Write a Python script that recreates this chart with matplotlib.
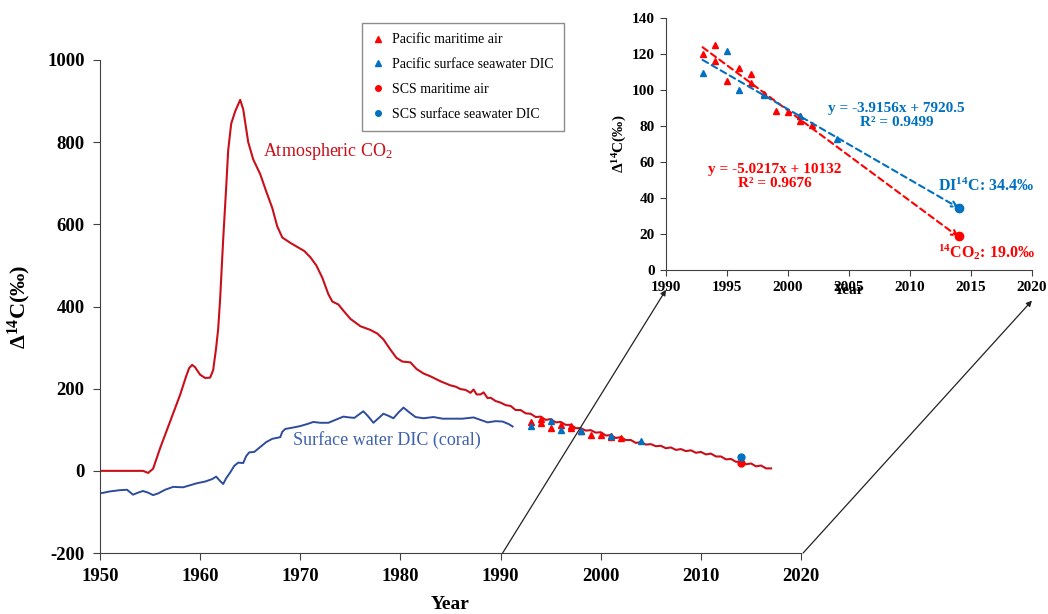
import matplotlib
matplotlib.use('Agg')
import matplotlib.pyplot as plt
from matplotlib.patches import ConnectionPatch

plt.rcParams['font.family'] = 'Liberation Serif'
plt.rcParams['mathtext.fontset'] = 'custom'
plt.rcParams['mathtext.rm'] = 'Liberation Serif'
plt.rcParams['mathtext.it'] = 'Liberation Serif:italic'
plt.rcParams['mathtext.bf'] = 'Liberation Serif:bold'
plt.rcParams['axes.unicode_minus'] = False

# Atmospheric 14CO2 curve (year, per mil)
atm_years = [1950, 1954.3, 1954.8, 1955.3, 1956, 1957, 1958, 1958.6, 1958.9, 1959.2, 1959.5, 1960, 1960.5,
             1961, 1961.3, 1961.6, 1961.8, 1962, 1962.3, 1962.6, 1962.8, 1963.1, 1963.5, 1964, 1964.3,
             1964.8, 1965.3, 1966, 1966.6, 1967.2, 1967.7, 1968.2, 1969, 1969.7, 1970.4, 1971, 1971.6,
             1972.2, 1972.8, 1973.2, 1973.8, 1974.3, 1975, 1976, 1977, 1977.7, 1978.3, 1979, 1979.6,
             1980.2, 1981, 1981.6, 1982.3, 1983, 1984, 1985, 1985.5, 1986, 1986.5, 1987, 1987.3,
             1987.6, 1988, 1988.3, 1988.7, 1989, 1989.5, 1990, 1990.5, 1991, 1991.5, 1992, 1992.5,
             1993, 1993.5, 1994, 1994.5, 1995, 1995.5, 1996, 1996.5, 1997, 1997.5, 1998, 1998.5,
             1999, 1999.5, 2000, 2000.5, 2001, 2001.5, 2002, 2002.5, 2003, 2003.5, 2004, 2004.5,
             2005, 2005.5, 2006, 2006.5, 2007, 2007.5, 2008, 2008.5, 2009, 2009.5, 2010, 2010.5,
             2011, 2011.5, 2012, 2012.5, 2013, 2013.5, 2014, 2014.5, 2015, 2015.5, 2016, 2016.5, 2017]
atm_values = [0, 0, -5, 5, 55, 120, 185, 230, 250, 258, 252, 234, 226,
              227, 245, 300, 345, 420, 563, 690, 780, 845, 875, 903, 880,
              800, 758, 722, 680, 640, 595, 568, 555, 545, 535, 520, 500,
              470, 430, 412, 405, 390, 370, 352, 343, 334, 320, 295, 275,
              266, 264, 248, 237, 230, 218, 208, 205, 199, 197, 190, 198,
              186, 186, 191, 177, 178, 170, 166, 160, 158, 148, 148, 140,
              139, 131, 132, 124, 126, 118, 119, 112, 112, 104, 104, 98,
              99, 93, 94, 86, 87, 80, 82, 75, 75, 68, 70, 64,
              65, 60, 61, 55, 57, 51, 53, 48, 50, 44, 46, 40,
              42, 35, 35, 28, 29, 22, 23, 16, 18, 11, 13, 6, 6]

# Coral (surface water DIC) curve
coral_years = [1950.2, 1951, 1952, 1952.7, 1953.0, 1953.3, 1953.8, 1954.3, 1954.8, 1955.3, 1955.8,
               1956.5, 1957.3, 1958.3, 1959, 1959.7, 1960.5, 1961.2, 1961.6, 1962, 1962.3, 1962.6,
               1963, 1963.4, 1963.8, 1964.3, 1964.6, 1964.9, 1965.4, 1966, 1966.6, 1967.2, 1968,
               1968.2, 1968.5, 1969.2, 1970, 1970.7, 1971.3, 1972, 1972.8, 1973.5, 1974.3, 1974.9,
               1975.4, 1975.9, 1976.3, 1976.8, 1977.3, 1977.8, 1978.3, 1978.8, 1979.3, 1979.8,
               1980.3, 1980.8, 1981.5, 1982.3, 1983.3, 1984.2, 1985, 1986.2, 1987.3, 1988, 1988.7,
               1989.5, 1990.2, 1990.8, 1991.2]
coral_values = [-54, -50, -47, -46, -52, -58, -53, -49, -53, -59, -55,
                -46, -39, -40, -35, -30, -26, -20, -14, -25, -32, -18,
                -4, 12, 20, 19, 36, 45, 46, 58, 70, 78, 82,
                95, 102, 105, 109, 114, 119, 117, 117, 124, 132, 130,
                129, 138, 145, 132, 117, 128, 139, 134, 128, 142,
                154, 144, 131, 128, 131, 127, 127, 127, 130, 124, 118,
                121, 120, 114, 108]

# Observations
pac_air_years = [1993, 1994, 1994, 1995, 1996, 1997, 1997, 1998, 1999, 2000, 2001, 2001, 2002]
pac_air_values = [120, 125, 116, 105, 112, 109, 104, 97.6, 88.3, 88, 85.5, 83, 80.6]
pac_dic_years = [1993, 1995, 1996, 1998, 2001, 2004]
pac_dic_values = [109.6, 121.8, 100, 97, 85.7, 73]
scs_air_year, scs_air_value = 2014, 19.0
scs_dic_year, scs_dic_value = 2014, 34.4

# regression coefficients from the figure
air_fit = (-5.0217, 10132)
dic_fit = (-3.9156, 7920.5)
fit_years = [1993, 2014]

red = '#FF0000'
blue = '#0070C0'
atm_color = '#C8101A'
coral_color = '#2E4C9C'
spine_color = '#404040'

fig = plt.figure(figsize=(10.48, 6.14), dpi=100)
ax = fig.add_axes([0.0954, 0.0993, 0.6690, 0.8030])

ax.plot(atm_years, atm_values, color=atm_color, lw=1.5)
ax.plot(coral_years, coral_values, color=coral_color, lw=1.4)
h1, = ax.plot(pac_air_years, pac_air_values, '^', color=red, ms=5, ls='none')
h2, = ax.plot(pac_dic_years, pac_dic_values, '^', color=blue, ms=5, ls='none')
h3, = ax.plot([scs_air_year], [scs_air_value], 'o', color=red, ms=5, ls='none')
h4, = ax.plot([scs_dic_year], [scs_dic_value], 'o', color=blue, ms=5, ls='none')

ax.set_xlim(1950, 2020)
ax.set_ylim(-200, 1000)
ax.set_xticks(range(1950, 2021, 10))
ax.set_yticks(range(-200, 1001, 200))
for s in ['top', 'right']:
    ax.spines[s].set_visible(False)
for s in ['left', 'bottom']:
    ax.spines[s].set_color(spine_color)
ax.tick_params(direction='out', length=5, color=spine_color, labelsize=13.5, pad=6)
for lab in ax.get_xticklabels() + ax.get_yticklabels():
    lab.set_fontweight('bold')
ax.set_xlabel('Year', fontsize=14, fontweight='bold', labelpad=8)
ax.set_ylabel(r'Δ$^{\mathbf{14}}$C(‰)', fontsize=16, fontweight='bold', labelpad=10)

ax.text(1966.3, 778, 'Atmospheric CO$_\\mathrm{2}$', color=atm_color, fontsize=13, va='center')
ax.text(1969.3, 76, 'Surface water DIC (coral)', color='#3F62AE', fontsize=13, va='center')

# legend
fig.legend([h1, h2, h3, h4],
           ['Pacific maritime air', 'Pacific surface seawater DIC', 'SCS maritime air', 'SCS surface seawater DIC'],
           loc='upper left', bbox_to_anchor=(362 / 1048, 1 - 23 / 614), fontsize=10,
           frameon=True, fancybox=False, edgecolor='#707070', markerscale=0.8, borderaxespad=0,
           handlelength=0.8, handletextpad=0.6, labelspacing=0.85, borderpad=0.75)

# inset
axi = fig.add_axes([0.6355, 0.5603, 0.3492, 0.4104])
axi.plot(pac_air_years, pac_air_values, '^', color=red, ms=5, ls='none')
axi.plot(pac_dic_years, pac_dic_values, '^', color=blue, ms=5, ls='none')
axi.plot([scs_air_year], [scs_air_value], 'o', color=red, ms=6, ls='none')
axi.plot([scs_dic_year], [scs_dic_value], 'o', color=blue, ms=6, ls='none')

for (m, b), col in [(air_fit, red), (dic_fit, blue)]:
    y0 = m * fit_years[0] + b
    y1 = m * fit_years[1] + b
    axi.annotate('', xy=(fit_years[1], y1), xytext=(fit_years[0], y0),
                 arrowprops=dict(arrowstyle='->', color=col, lw=1.5, linestyle=(0, (3, 2)),
                                 shrinkA=0, shrinkB=0))

axi.set_xlim(1990, 2020)
axi.set_ylim(0, 140)
axi.set_xticks(range(1990, 2021, 5))
axi.set_yticks(range(0, 141, 20))
for s in ['top', 'right']:
    axi.spines[s].set_visible(False)
for s in ['left', 'bottom']:
    axi.spines[s].set_color(spine_color)
axi.tick_params(direction='out', length=4, color=spine_color, labelsize=11, pad=4)
for lab in axi.get_xticklabels() + axi.get_yticklabels():
    lab.set_fontweight('bold')
axi.set_xlabel('Year', fontsize=11, fontweight='bold', labelpad=-7)
axi.set_ylabel(r'Δ$^{\mathbf{14}}$C(‰)', fontsize=11, fontweight='bold', labelpad=2)

axi.text(2008.9, 86, 'y = -3.9156x + 7920.5\nR² = 0.9499', color=blue, fontsize=11,
         fontweight='bold', ha='center', va='center', linespacing=1.1)
axi.text(1998.9, 52, 'y = -5.0217x + 10132\nR² = 0.9676', color=red, fontsize=11,
         fontweight='bold', ha='center', va='center', linespacing=1.1)
axi.text(2012.3, 46.5, r'DI$^{\mathbf{14}}$C: 34.4‰', color=blue, fontsize=11.5,
         fontweight='bold', va='center')
axi.text(2012.3, 10, r'$^{\mathbf{14}}$CO$_{\mathbf{2}}$: 19.0‰', color=red, fontsize=11.5,
         fontweight='bold', va='center')

# connector arrows from main axis to inset
for yr, yb in [(1990, -11), (2020, -17)]:
    con = ConnectionPatch(xyA=(yr + 0.2, -200), coordsA=ax.transData,
                          xyB=(yr, yb), coordsB=axi.transData,
                          arrowstyle='-|>', mutation_scale=8, color='#222222', lw=0.9)
    fig.add_artist(con)

fig.savefig('out.png', dpi=100)
